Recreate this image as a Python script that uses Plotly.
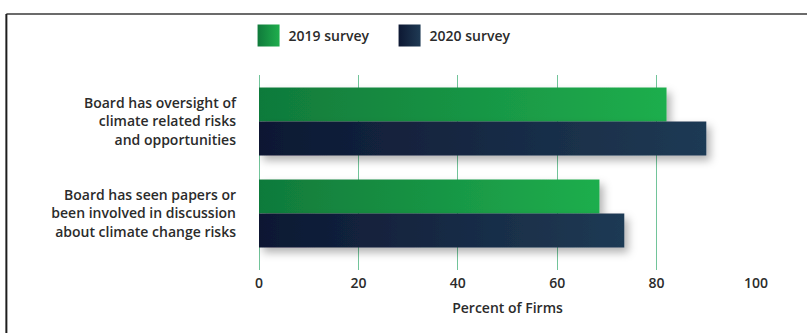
import plotly.graph_objects as go

# Survey results: share of firms (%) by board-level climate practice
categories = [
    "Board has oversight of<br>climate related risks<br>and opportunities",
    "Board has seen papers or<br>been involved in discussion<br>about climate change risks",
]
survey_2019 = [82, 68.5]
survey_2020 = [90, 73.5]
x_ticks = [0, 20, 40, 60, 80, 100]

GREEN = "#179343"
NAVY = "#16283f"
GRID = "#72c49a"
TEXT = "#2b2b2b"
FONT = "Open Sans"
FS = 14

fig = go.Figure()
fig.add_trace(go.Bar(name="2019 survey", y=categories, x=survey_2019, orientation="h",
                     marker=dict(color=GREEN, line=dict(width=0))))
fig.add_trace(go.Bar(name="2020 survey", y=categories, x=survey_2020, orientation="h",
                     marker=dict(color=NAVY, line=dict(width=0))))

fig.update_layout(
    width=807, height=333,
    margin=dict(l=259, r=51, t=75, b=63),
    paper_bgcolor="white", plot_bgcolor="white",
    barmode="group", bargap=0.261, bargroupgap=0,
    font=dict(family=FONT, size=FS, color=TEXT, weight=600),
    showlegend=True,
    legend=dict(orientation="h", x=-0.021, xanchor="left", y=1.2, yanchor="middle",
                entrywidth=96, entrywidthmode="pixels",
                font=dict(size=FS, color=TEXT, weight=600), bgcolor="rgba(0,0,0,0)"),
    xaxis=dict(range=[0, 100], tickvals=x_ticks, showgrid=True, gridcolor=GRID, gridwidth=1,
               zeroline=True, zerolinecolor=GRID, zerolinewidth=1, showline=False,
               ticks="", ticklabelstandoff=3,
               tickfont=dict(size=FS, color=TEXT, weight=600),
               title=dict(text="Percent of Firms", standoff=12,
                          font=dict(size=FS, color=TEXT, weight=600))),
    yaxis=dict(categoryorder="array", categoryarray=categories,
               range=[1.614, -0.505], showgrid=False, zeroline=False, showline=False,
               ticks="", ticklabelstandoff=22,
               tickfont=dict(size=FS, color=TEXT, weight=600)),
    shapes=[
        dict(type="line", xref="paper", yref="paper", x0=-0.5083, x1=1.11, y0=1.3128, y1=1.3128,
             line=dict(color="#6b6b6b", width=2)),
        dict(type="line", xref="paper", yref="paper", x0=-0.5083, x1=-0.5083, y0=1.3128, y1=-0.35,
             line=dict(color="#1e1e1e", width=2)),
    ],
)

# Horizontal gradients, soft drop shadows and larger legend swatches
post = """
var gd = document.getElementById('{plot_id}');
var NS = 'http://www.w3.org/2000/svg';
function mkGrad(defs, id, c0, c1) {
  var g = document.createElementNS(NS, 'linearGradient');
  g.setAttribute('id', id); g.setAttribute('x1', '0'); g.setAttribute('x2', '1');
  g.setAttribute('y1', '0'); g.setAttribute('y2', '0');
  [[0, c0], [1, c1]].forEach(function (s) {
    var st = document.createElementNS(NS, 'stop');
    st.setAttribute('offset', s[0]); st.setAttribute('stop-color', s[1]);
    g.appendChild(st);
  });
  defs.appendChild(g);
}
function deco() {
  var svg = gd.querySelector('svg.main-svg');
  if (!svg) return;
  if (!svg.querySelector('#gr2019')) {
    var defs = document.createElementNS(NS, 'defs');
    mkGrad(defs, 'gr2019', '#107a3b', '#1fae4d');
    mkGrad(defs, 'gr2020', '#0d1833', '#1f3a54');
    var f = document.createElementNS(NS, 'filter');
    f.setAttribute('id', 'barShadow');
    f.setAttribute('x', '-10%'); f.setAttribute('y', '-30%');
    f.setAttribute('width', '130%'); f.setAttribute('height', '180%');
    var ds = document.createElementNS(NS, 'feDropShadow');
    ds.setAttribute('dx', '4'); ds.setAttribute('dy', '5'); ds.setAttribute('stdDeviation', '4');
    ds.setAttribute('flood-color', '#000'); ds.setAttribute('flood-opacity', '0.3');
    f.appendChild(ds); defs.appendChild(f);
    svg.insertBefore(defs, svg.firstChild);
  }
  var ids = ['gr2019', 'gr2020'];
  gd.querySelectorAll('.barlayer .trace').forEach(function (t, i) {
    t.setAttribute('filter', 'url(#barShadow)');
    t.querySelectorAll('path').forEach(function (p) { p.style.fill = 'url(#' + ids[i] + ')'; });
  });
  gd.querySelectorAll('.legend .traces').forEach(function (t, i) {
    t.querySelectorAll('.legendpoints path').forEach(function (p) {
      p.setAttribute('d', 'M11,11H-11V-11H11Z');
      p.style.fill = 'url(#' + ids[i] + ')';
      p.style.stroke = 'none';
    });
  });
}
deco();
gd.on('plotly_afterplot', deco);
"""

fig.write_html("out.html", post_script=post)
